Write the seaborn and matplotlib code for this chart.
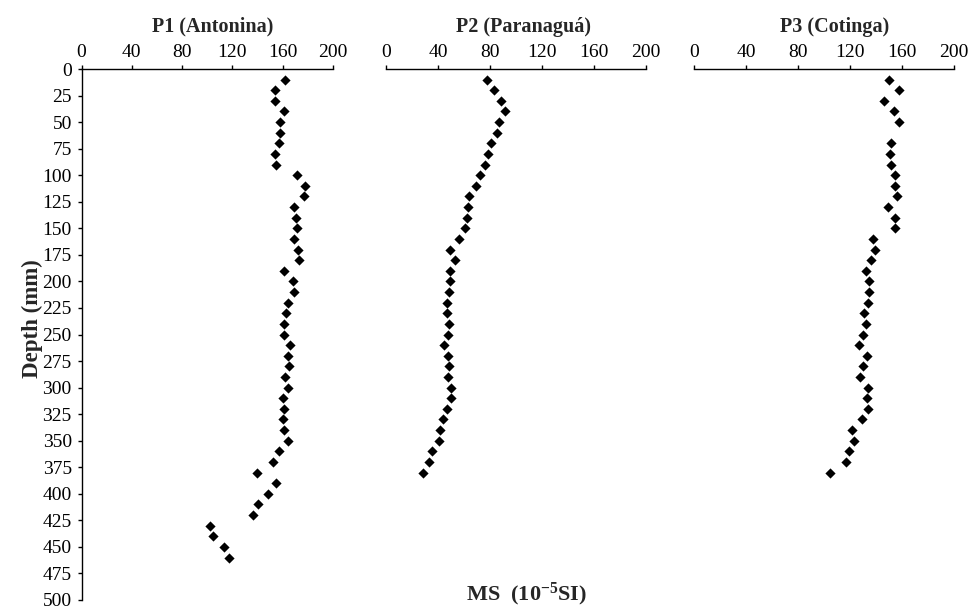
import matplotlib
matplotlib.use("Agg")
import matplotlib.pyplot as plt
import seaborn as sns
import pandas as pd

# ---------------- data ----------------
depth_p1 = list(range(10, 470, 10))
ms_p1 = [161.9, 154, 154, 161.4, 157.7, 157.7, 157, 154, 154.5, 171.4,
         177.8, 176.7, 169.3, 170.9, 171.4, 169.3, 172.5, 173, 160.8, 168.3,
         168.8, 164.6, 163, 161.4, 160.8, 165.6, 164.6, 165, 161.9, 164.6,
         160.3, 160.8, 160.3, 160.8, 164.6, 157.1, 151.9, 139.7, 155, 148.7,
         140.2, 136, 102, 104.8, 113.2, 117.5]

depth_p2 = list(range(10, 390, 10))
ms_p2 = [77.4, 83.1, 88.7, 91.3, 87.2, 85.1, 80.5, 78.5, 75.9, 72.3,
         69.2, 64.1, 63.1, 62.1, 60.5, 55.9, 49.2, 52.8, 49.2, 49.2,
         48.2, 46.7, 46.7, 48.7, 47.7, 44.6, 47.7, 48.7, 47.7, 49.7,
         49.7, 46.7, 43.6, 41.5, 40.5, 35.4, 33.3, 28.2]

depth_p3 = [10, 20, 30, 40, 50] + list(range(70, 390, 10))
ms_p3 = [149.7, 157.4, 146.2, 153.8, 157.4, 151.3, 150.8, 151.8, 154.9, 154.4,
         156.4, 149.2, 154.4, 154.4, 137.4, 139, 135.9, 132.3, 134.4, 134.4,
         133.8, 130.8, 132.3, 129.7, 127.2, 133.3, 130.3, 127.7, 133.8, 132.8,
         133.8, 129.2, 121.5, 123.1, 119, 116.9, 104.6]

titles = ["P1 (Antonina)", "P2 (Paranaguá)", "P3 (Cotinga)"]
x_ticks = [0, 40, 80, 120, 160, 200]
y_ticks = list(range(0, 525, 25))
x_label = r"MS  (10$^{\mathbf{-5}}$SI)"
y_label = "Depth (mm)"

# ---------------- style ----------------
sns.set_theme(style="white")
plt.rcParams["font.family"] = ["Liberation Serif", "DejaVu Serif"]
plt.rcParams["mathtext.fontset"] = "custom"
plt.rcParams["mathtext.rm"] = "Liberation Serif:bold"
plt.rcParams["mathtext.bf"] = "Liberation Serif:bold"
plt.rcParams["mathtext.it"] = "Liberation Serif:bold"

W, H = 968, 609
fig = plt.figure(figsize=(W / 100, H / 100), dpi=100)

top_px, bot_px = 69, 600
panels = [(81.5, 333.0), (386.0, 646.0), (694.0, 954.0)]
title_x = [0.52, 0.53, 0.54]
datasets = [(ms_p1, depth_p1), (ms_p2, depth_p2), (ms_p3, depth_p3)]

for i, ((x0, x1), (vals, deps)) in enumerate(zip(panels, datasets)):
    ax = fig.add_axes([x0 / W, 1 - bot_px / H, (x1 - x0) / W, (bot_px - top_px) / H])
    df = pd.DataFrame({"MS": vals, "Depth": deps})
    sns.scatterplot(data=df, x="MS", y="Depth", ax=ax, marker="D",
                    color="black", s=27, linewidth=0, legend=False)
    ax.set_xlim(0, 200)
    ax.set_ylim(500, 0)
    ax.xaxis.tick_top()
    ax.set_xticks(x_ticks)
    ax.set_xticklabels([str(t) for t in x_ticks])
    ax.tick_params(axis="x", direction="out", length=3, width=1, pad=2.5,
                   labelsize=14, colors="black", top=True, bottom=False)
    ax.set_xlabel("")
    ax.set_ylabel("")
    for s in ["bottom", "right"]:
        ax.spines[s].set_visible(False)
    ax.spines["top"].set_color("black")
    ax.spines["top"].set_linewidth(1)
    if i == 0:
        ax.set_yticks(y_ticks)
        ax.set_yticklabels([str(t) for t in y_ticks])
        ax.tick_params(axis="y", direction="out", length=3, width=1, pad=4,
                       labelsize=14, colors="black", left=True)
        ax.spines["left"].set_color("black")
        ax.spines["left"].set_linewidth(1)
        ax.set_ylabel(y_label, fontsize=16.5, fontweight="bold")
        ax.yaxis.set_label_coords(-0.155, 0.53)
    else:
        ax.spines["left"].set_visible(False)
        ax.set_yticks([])
    ax.set_title(titles[i], fontsize=14.5, fontweight="bold", x=title_x[i],
                 y=1.0702, pad=0)

fig.text(527 / W, 1 - 608 / H, x_label, ha="center", va="bottom",
         fontsize=16, fontweight="bold")

fig.savefig("out.png", dpi=100)
